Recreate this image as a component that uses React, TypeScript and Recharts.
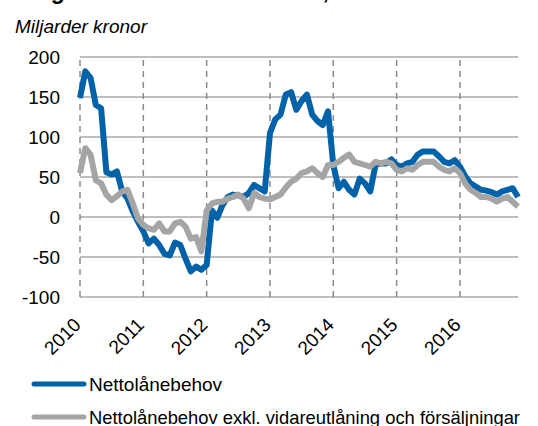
import { LineChart, Line, XAxis, YAxis, CartesianGrid, ReferenceLine } from 'recharts';

const years = ['2010', '2011', '2012', '2013', '2014', '2015', '2016'];

// one category per month, Jan 2010 - Dec 2016
const months = years.flatMap(y =>
  ['01', '02', '03', '04', '05', '06', '07', '08', '09', '10', '11', '12'].map(m => `${y}-${m}`)
);

const nettolanebehov = [
  149, 182, 174, 140, 136, 56, 53, 57, 32, 23, 7, -6,
  -18, -33, -27, -35, -46, -48, -32, -35, -52, -68, -62, -66,
  -60, 8, -1, 15, 25, 28, 27, 25, 30, 40, 36, 32,
  105, 122, 128, 153, 156, 134, 145, 153, 128, 120, 115, 132,
  65, 36, 44, 34, 28, 48, 42, 32, 65, 67, 67, 72,
  65, 63, 67, 69, 78, 82, 82, 82, 76, 69, 67, 71,
  63, 51, 42, 38, 34, 33, 31, 28, 32, 34, 36, 25,
];

const exklVidareutlaning = [
  55, 86, 78, 46, 42, 28, 21, 26, 32, 34, 17, -2,
  -10, -14, -16, -8, -18, -18, -8, -6, -12, -27, -25, -43,
  8, 17, 19, 19, 23, 25, 28, 23, 11, 30, 25, 23,
  22, 25, 28, 37, 44, 48, 55, 57, 61, 55, 50, 65,
  65, 69, 74, 78, 69, 67, 65, 63, 69, 67, 69, 67,
  59, 57, 61, 59, 65, 69, 69, 69, 63, 59, 57, 61,
  55, 42, 34, 30, 25, 25, 23, 19, 23, 25, 19, 13,
];

const yTicks = [-100, -50, 0, 50, 100, 150, 200];
const yearStarts = years.map(y => `${y}-01`);

const data = months.map((month, i) => ({
  month,
  netto: nettolanebehov[i],
  exkl: exklVidareutlaning[i],
}));

const FONT = '"Liberation Sans", Arial, Helvetica, sans-serif';
const BLUE = '#0062a8';
const GREY = '#a5a5a5';

const YearTick = (props: any) => {
  const { x, y, payload } = props;
  return (
    <text
      transform={`translate(${x + 2},${y + 29}) rotate(-45)`}
      textAnchor="end"
      fontSize={19}
      fontFamily={FONT}
      fill="#000"
    >
      {payload.value.slice(0, 4)}
    </text>
  );
};

export default function App() {
  return (
    <div style={{ position: 'absolute', left: 0, top: 0, width: 538, height: 426, background: '#fff', overflow: 'hidden', fontFamily: FONT }}>
      <svg width={538} height={426} style={{ position: 'absolute', left: 0, top: 0 }}>
        {/* chart heading, cut off at the top edge as in the source picture */}
        <text x={15} y={-1} fontSize={23} fontWeight="bold" fontFamily={FONT}>
          Diagram 1.2 Nettolånebehov, rullande tolvmånaderssumma
        </text>
        <text x={15} y={33} fontSize={19} fontStyle="italic" fontFamily={FONT}>
          Miljarder kronor
        </text>
      </svg>
      <div style={{ position: 'absolute', left: 0, top: 0 }}>
        <LineChart width={538} height={426} data={data} margin={{ top: 57, right: 20, left: 0, bottom: 89 }}>
          <CartesianGrid vertical={false} stroke="#7f7f7f" strokeWidth={1} />
          {yearStarts.map(m => (
            <ReferenceLine key={m} x={m} stroke="#8a8a8a" strokeWidth={1.5} strokeDasharray="6 5" />
          ))}
          <XAxis
            dataKey="month"
            ticks={yearStarts}
            interval={0}
            tick={<YearTick />}
            tickLine={false}
            axisLine={false}
            tickSize={0}
            tickMargin={0}
            height={40}
          />
          <YAxis
            domain={[-100, 200]}
            ticks={yTicks}
            width={80}
            axisLine={false}
            tickLine={false}
            tickSize={0}
            tickMargin={20}
            tick={{ fill: '#000', fontSize: 19, fontFamily: FONT }}
          />
          <Line dataKey="netto" stroke={BLUE} strokeWidth={6} dot={false} isAnimationActive={false} strokeLinejoin="round" />
          <Line dataKey="exkl" stroke={GREY} strokeWidth={6} dot={false} isAnimationActive={false} strokeLinejoin="round" />
        </LineChart>
      </div>
      <svg width={538} height={426} style={{ position: 'absolute', left: 0, top: 0, pointerEvents: 'none' }}>
        <line x1={34} y1={384} x2={84} y2={384} stroke={BLUE} strokeWidth={5} strokeLinecap="round" />
        <text x={89} y={391} fontSize={19} fontFamily={FONT}>Nettolånebehov</text>
        <line x1={34} y1={417} x2={84} y2={417} stroke={GREY} strokeWidth={5} strokeLinecap="round" />
        <text x={89} y={424} fontSize={19} fontFamily={FONT} textLength={431} lengthAdjust="spacingAndGlyphs">
          Nettolånebehov exkl. vidareutlåning och försäljningar
        </text>
      </svg>
    </div>
  );
}
